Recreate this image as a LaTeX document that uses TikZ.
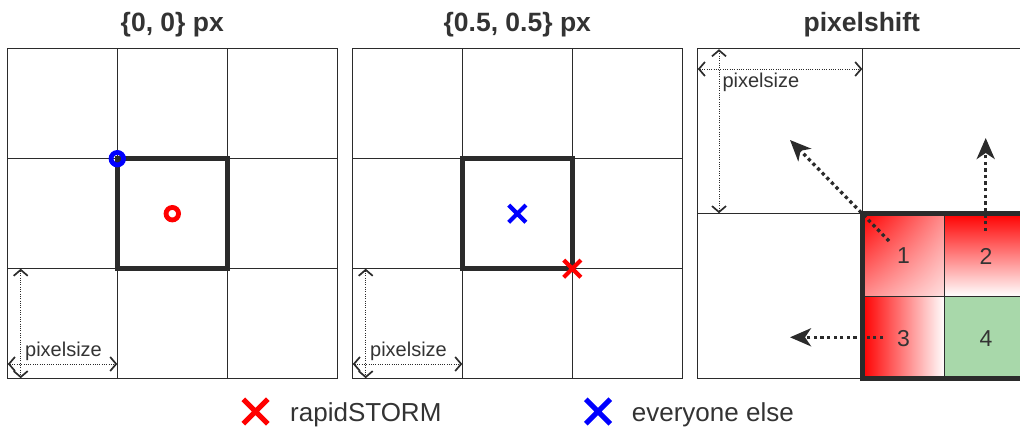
\documentclass[tikz,border=0pt]{standalone}
\usepackage{fontspec}
\setmainfont{Liberation Sans}
\usetikzlibrary{arrows.meta,shapes.misc,shadings}
\definecolor{ink}{HTML}{2B2B2B}
\definecolor{txt}{HTML}{333333}
\definecolor{cellgreen}{HTML}{A8D8AA}
\definecolor{mred}{HTML}{FF0000}
\definecolor{mblue}{HTML}{0000FF}
\definecolor{pinkA}{HTML}{FF8C8C}
\definecolor{pinkB}{HTML}{FFE0E0}
\begin{document}
\begin{tikzpicture}[x=1pt,y=-1pt,
  gridline/.style={draw=ink, line width=1.3pt},
  boldsq/.style={draw=ink, line width=5.5pt, line join=miter},
  dimarrow/.style={draw=ink, line width=0.9pt, dash pattern=on 0.9pt off 1.4pt,
     {Straight Barb[length=6pt,width=14pt,line width=1.7pt]}-{Straight Barb[length=6pt,width=14pt,line width=1.7pt]}},
  shiftarrow/.style={draw=ink, line width=3.3pt, dash pattern=on 3.3pt off 3.3pt,
     -{Stealth[length=21pt,width=18pt,inset=6pt]}},
  titletext/.style={text=txt, font=\fontsize{26.5}{30}\selectfont\bfseries, inner sep=0pt, anchor=base},
  dimtext/.style={text=txt, font=\fontsize{20}{24}\selectfont, inner sep=0pt},
  celltext/.style={text=txt, font=\fontsize{23}{26}\selectfont, inner sep=0pt, anchor=center},
  legendtext/.style={text=txt, font=\fontsize{26}{30}\selectfont, inner sep=0pt, anchor=base west},
  ring/.style={circle, draw=#1, line width=4.8pt, minimum size=12.5pt, inner sep=0pt},
  xmark/.style={cross out, draw=#1, line width=4.2pt, minimum size=13pt, inner sep=0pt},
  legendx/.style={cross out, draw=#1, line width=5pt, minimum size=19.5pt, inner sep=0pt}
]
\useasboundingbox (0,0) rectangle (1020,427);
\clip (0,0) rectangle (1020,427);

% ---------- titles ----------
\node[titletext] (t1) at (172.3,31.5) {\{0, 0\} px};
\node[titletext] (t2) at (517.3,31.5) {\{0.5, 0.5\} px};
\node[titletext] (t3) at (861.8,31.5) {pixelshift};

% ---------- panels 1 and 2 ----------
\foreach \xo in {7.3,352.3} {
  \draw[gridline] (\xo,48.7) rectangle ++(330,330);
  \draw[gridline] (\xo+110,48.7) -- ++(0,330);
  \draw[gridline] (\xo+220,48.7) -- ++(0,330);
  \draw[gridline] (\xo,158.7) -- ++(330,0);
  \draw[gridline] (\xo,268.7) -- ++(330,0);
  \draw[boldsq] (\xo+110,158.7) rectangle ++(110,110);
}

% dimension arrows panel 1
\coordinate (p1va) at (20.7,268.7);
\coordinate (p1vb) at (20.7,378.2);
\coordinate (p1ha) at (7.8,364);
\coordinate (p1hb) at (117.3,364);
\draw[dimarrow] (p1va) -- (p1vb);
\draw[dimarrow] (p1ha) -- (p1hb);
\node[dimtext, anchor=base] (l1) at (63.5,357) {pixelsize};

% dimension arrows panel 2
\coordinate (p2va) at (365.7,268.7);
\coordinate (p2vb) at (365.7,378.2);
\coordinate (p2ha) at (352.8,364);
\coordinate (p2hb) at (462.3,364);
\draw[dimarrow] (p2va) -- (p2vb);
\draw[dimarrow] (p2ha) -- (p2hb);
\node[dimtext, anchor=base] (l2) at (408.5,357) {pixelsize};

% markers
\node[ring=mblue] (m1) at (117.3,158.7) {};
\node[ring=mred] (m2) at (172.3,213.7) {};
\node[xmark=mblue] (m3) at (517.3,213.7) {};
\node[xmark=mred] (m4) at (572.3,268.7) {};

% ---------- panel 3 ----------
\shade[upper left=mred, upper right=pinkA, lower left=pinkA, lower right=pinkB]
  (862.3,213.7) rectangle (944.8,296.2);
\shade[top color=mred, bottom color=white] (944.8,213.7) rectangle (1027.3,296.2);
\shade[left color=mred, right color=white] (862.3,296.2) rectangle (944.8,378.7);
\fill[cellgreen] (944.8,296.2) rectangle (1027.3,378.7);

\draw[gridline] (1025,48.7) -- (697.3,48.7) -- (697.3,378.7) -- (862.3,378.7);
\draw[gridline] (697.3,213.7) -- (862.3,213.7);
\draw[gridline] (862.3,48.7) -- (862.3,213.7);
\draw[gridline] (944.8,213.7) -- (944.8,378.7);
\draw[gridline] (862.3,296.2) -- (1027.3,296.2);
\draw[boldsq] (862.3,213.7) rectangle (1027.3,378.7);

\coordinate (p3ha) at (697.8,69);
\coordinate (p3hb) at (862.3,69);
\coordinate (p3va) at (719,49.2);
\coordinate (p3vb) at (719,213.2);
\draw[dimarrow] (p3ha) -- (p3hb);
\draw[dimarrow] (p3va) -- (p3vb);
\node[dimtext, anchor=base west] (l3) at (722.3,87.3) {pixelsize};

% shift arrows
\coordinate (s1a) at (889,241);
\coordinate (s1b) at (790,140);
\coordinate (s2a) at (985.7,231);
\coordinate (s2b) at (985.7,138);
\coordinate (s3a) at (883,337.3);
\coordinate (s3b) at (790,337.3);
\draw[shiftarrow] (s1a) -- (s1b);
\draw[shiftarrow] (s2a) -- (s2b);
\draw[shiftarrow] (s3a) -- (s3b);

\node[celltext] (c1) at (903.5,256) {1};
\node[celltext] (c2) at (986,256) {2};
\node[celltext] (c3) at (903.5,338.3) {3};
\node[celltext] (c4) at (986,338.3) {4};

% ---------- legend ----------
\node[legendx=mred] (k1) at (255.5,411.5) {};
\node[legendtext] (k1t) at (290,421) {rapidSTORM};
\node[legendx=mblue] (k2) at (598,411.5) {};
\node[legendtext] (k2t) at (631.7,421) {everyone else};
\end{tikzpicture}
\end{document}
